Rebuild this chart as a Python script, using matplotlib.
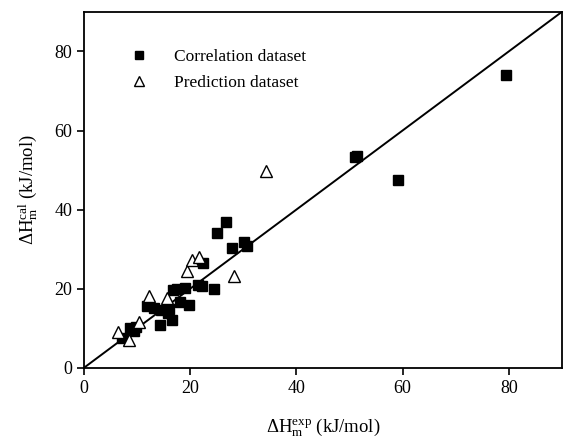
import numpy as np
import matplotlib
matplotlib.use("Agg")
import matplotlib.pyplot as plt

# correlation dataset (filled squares)
corr_exp = [7.2, 8.7, 9.8, 9.4, 11.8, 13.2, 14.6, 15.9, 16.5, 14.3, 16.0,
            16.8, 17.6, 19.0, 18.1, 19.7, 21.5, 22.2, 24.5, 22.5, 25.0,
            26.7, 27.8, 30.2, 30.8, 51.0, 51.5, 59.2, 79.5]
corr_cal = [7.5, 10.1, 10.3, 9.4, 15.6, 15.2, 14.7, 13.9, 12.2, 10.9, 15.0,
            19.8, 19.9, 20.2, 16.6, 15.8, 20.9, 20.6, 19.9, 26.4, 34.0,
            36.8, 30.4, 31.9, 30.7, 53.2, 53.6, 47.5, 74.1]

# prediction dataset (open triangles)
pred_exp = [6.5, 8.5, 10.4, 12.3, 15.6, 19.5, 20.4, 21.7, 28.2, 34.3]
pred_cal = [9.1, 7.0, 11.6, 18.2, 17.6, 24.6, 27.2, 28.0, 23.2, 49.8]

ticks = [0, 20, 40, 60, 80]

plt.rcParams['font.family'] = ['Liberation Serif', 'DejaVu Serif']
plt.rcParams['mathtext.fontset'] = 'custom'
plt.rcParams['mathtext.rm'] = 'Liberation Serif'
plt.rcParams['mathtext.it'] = 'Liberation Serif:italic'

fig = plt.figure(figsize=(5.63, 4.40), dpi=100)
ax = fig.add_axes([0.149, 0.164, 0.849, 0.809])

ax.plot([0, 90], [0, 90], color='black', lw=1.4, zorder=1)
ax.plot(corr_exp, corr_cal, 's', color='black', ms=7, ls='none',
        label='Correlation dataset', zorder=3)
ax.plot(pred_exp, pred_cal, '^', mfc='white', mec='black', mew=1.0, ms=9,
        ls='none', label='Prediction dataset', zorder=4)

ax.set_xlim(0, 90)
ax.set_ylim(0, 90)
ax.set_xticks(ticks)
ax.set_yticks(ticks)
ax.tick_params(direction='out', length=5, width=1.2, labelsize=13,
               top=False, right=False)
for s in ax.spines.values():
    s.set_linewidth(1.3)

ax.set_xlabel(r'$\mathrm{\Delta H_m^{exp}}$ (kJ/mol)', fontsize=13.5, labelpad=14)
ax.set_ylabel(r'$\mathrm{\Delta H_m^{cal}}$ (kJ/mol)', fontsize=13.5, labelpad=10)

ax.legend(loc='upper left', bbox_to_anchor=(0.065, 0.94), frameon=False,
          fontsize=12.5, handletextpad=1.5, labelspacing=0.55, handlelength=1.0,
          markerscale=0.8)

fig.savefig('out.png', dpi=100)
